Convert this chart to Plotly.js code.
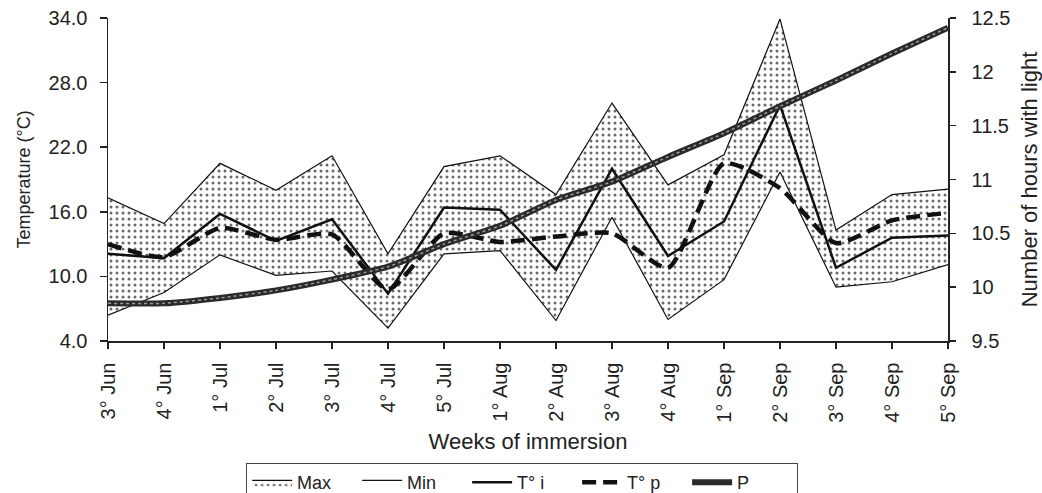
<!DOCTYPE html>
<html>
<head>
<meta charset="utf-8">
<script src="https://cdn.plot.ly/plotly-3.0.1.min.js"></script>
<style>html,body{margin:0;padding:0;background:#fff;}#chart{width:1042px;height:493px;}</style>
</head>
<body>
<div id="chart"></div>
<script>
const categories = ['3° Jun','4° Jun','1° Jul','2° Jul','3° Jul','4° Jul','5° Jul','1° Aug','2° Aug','3° Aug','4° Aug','1° Sep','2° Sep','3° Sep','4° Sep','5° Sep'];
const maxT = [17.3,14.9,20.5,18.0,21.2,12.1,20.2,21.2,17.6,26.1,18.5,21.3,33.9,14.3,17.6,18.1];
const minT = [6.4,8.5,12.0,10.1,10.5,5.2,12.1,12.4,5.9,15.5,6.0,9.7,19.7,9.0,9.5,11.1];
const tempI = [12.1,11.7,15.8,13.3,15.3,8.4,16.4,16.2,10.6,20.0,11.9,15.1,25.9,10.8,13.6,13.8];
const tempP = [13.0,11.8,14.5,13.4,13.9,8.8,14.0,13.2,13.7,14.0,10.8,20.5,18.2,13.1,15.2,15.9];
const hoursLight = [9.85,9.85,9.90,9.97,10.07,10.19,10.40,10.57,10.81,10.98,11.21,11.43,11.68,11.92,12.17,12.41];
const leftTicks = [4,10,16,22,28,34];
const rightTicks = [9.5,10,10.5,11,11.5,12,12.5];
const rightTickText = ['9.5','10','10.5','11','11.5','12','12.5'];

const FONT = 'Liberation Sans, Arial, sans-serif';
const TXT = '#222';

const traces = [
  {x: categories, y: maxT, name: 'Max', type: 'scatter', mode: 'lines',
   fill: 'tozeroy', fillcolor: '#ffffff',
   fillpattern: {shape: '.', fgcolor: '#6a6a6a', bgcolor: '#ffffff', size: 6, solidity: 0.2},
   line: {color: '#111', width: 1.2}},
  {x: categories, y: minT, name: 'Min', type: 'scatter', mode: 'lines',
   fill: 'tozeroy', fillcolor: '#ffffff',
   line: {color: '#111', width: 1.2}},
  {x: categories, y: tempI, name: 'T° i', type: 'scatter', mode: 'lines',
   line: {color: '#111', width: 2.5}},
  {x: categories, y: tempP, name: 'T° p', type: 'scatter', mode: 'lines',
   line: {color: '#111', width: 4.5, dash: '14px,7px', shape: 'spline', smoothing: 0.6}},
  {x: categories, y: hoursLight, name: 'P', type: 'scatter', mode: 'lines', yaxis: 'y2',
   line: {color: '#2a2a2a', width: 6, shape: 'spline', smoothing: 0.6}},
  {x: categories, y: hoursLight, name: 'P', type: 'scatter', mode: 'lines', yaxis: 'y2',
   showlegend: false, hoverinfo: 'skip',
   line: {color: '#9a9a9a', width: 1.5, dash: 'dot', shape: 'spline', smoothing: 0.6}}
];

const layout = {
  width: 1042, height: 493,
  margin: {l: 108, r: 94, t: 18, b: 152, autoexpand: false},
  paper_bgcolor: '#fff', plot_bgcolor: '#fff',
  font: {family: FONT, color: TXT, size: 20},
  showlegend: true,
  legend: {
    orientation: 'h', x: 0.493, xanchor: 'center', y: -0.378, yanchor: 'top',
    bordercolor: '#444', borderwidth: 1, bgcolor: '#fff',
    font: {family: FONT, size: 18, color: TXT},
    itemwidth: 40, tracegroupgap: 0,
    entrywidth: 55, entrywidthmode: 'pixels'
  },
  xaxis: {
    type: 'category', range: [0, 15],
    showline: true, linecolor: '#222', linewidth: 1.5,
    ticks: 'outside', ticklen: 6, tickcolor: '#222', tickwidth: 1.5,
    tickangle: -90, tickfont: {size: 20, family: FONT, color: TXT},
    ticklabelstandoff: 6,
    showgrid: false, zeroline: false,
    title: {text: 'Weeks of immersion', font: {size: 22, family: FONT, color: TXT}, standoff: 12}
  },
  yaxis: {
    range: [4, 34], tickvals: leftTicks, tickformat: '.1f',
    showline: true, linecolor: '#222', linewidth: 1.5,
    ticks: 'outside', ticklen: 7, tickcolor: '#222', tickwidth: 1.5,
    tickfont: {size: 20, family: FONT, color: TXT},
    ticklabelstandoff: 8,
    showgrid: false, zeroline: false,
    title: {text: 'Temperature (°C)', font: {size: 18, family: FONT, color: TXT}, standoff: 13}
  },
  yaxis2: {
    overlaying: 'y', side: 'right', range: [9.5, 12.5],
    tickvals: rightTicks, ticktext: rightTickText,
    showline: true, linecolor: '#222', linewidth: 1.5,
    ticks: 'outside', ticklen: 6, tickcolor: '#222', tickwidth: 1.5,
    tickfont: {size: 20, family: FONT, color: TXT},
    ticklabelstandoff: 12,
    showgrid: false, zeroline: false,
    title: {text: 'Number of hours with light', font: {size: 22, family: FONT, color: TXT}, standoff: 12}
  }
};

Plotly.newPlot('chart', traces, layout, {displayModeBar: false, staticPlot: true});
</script>
</body>
</html>
